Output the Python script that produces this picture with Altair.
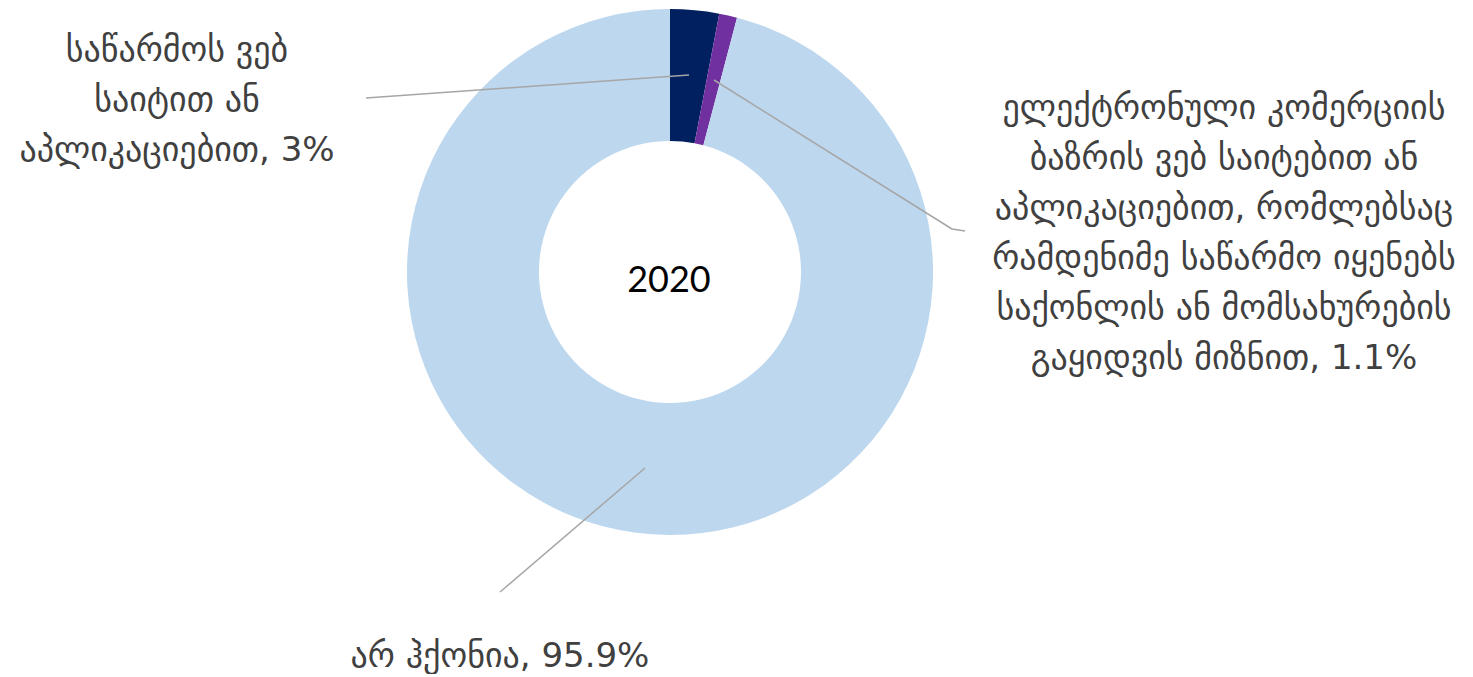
import altair as alt
import pandas as pd

categories = [
    "საწარმოს ვებ საიტით ან აპლიკაციებით",
    "ელექტრონული კომერციის ბაზრის ვებ საიტებით ან აპლიკაციებით, რომლებსაც რამდენიმე საწარმო იყენებს საქონლის ან მომსახურების გაყიდვის მიზნით",
    "არ ჰქონია",
]
values = [3.0, 1.1, 95.9]
value_text = ["3%", "1.1%", "95.9%"]
label_lines = [
    ["საწარმოს ვებ", "საიტით ან", "აპლიკაციებით, "],
    ["ელექტრონული კომერციის", "ბაზრის ვებ საიტებით ან", "აპლიკაციებით, რომლებსაც",
     "რამდენიმე საწარმო იყენებს", "საქონლის ან მომსახურების", "გაყიდვის მიზნით, "],
    ["არ ჰქონია, "],
]
colors = ["#002060", "#7030A0", "#BDD7EE"]
center_title = "2020"

df = pd.DataFrame({
    "category": categories,
    "value": values,
    "order": [0, 1, 2],
    "label": ["\n".join(l) + v for l, v in zip(label_lines, value_text)],
})

W, H = 1457, 661
CX, CY = 662, 264
FONT = "DejaVu Sans"
FS = 34
TXT = "#404040"
LINE = "#A6A6A6"

base = alt.Chart(df)

arc = base.mark_arc(outerRadius=263, innerRadius=131, stroke=None).encode(
    theta=alt.Theta("value:Q", stack=True),
    order=alt.Order("order:Q"),
    color=alt.Color("category:N", scale=alt.Scale(domain=categories, range=colors), legend=None),
    x=alt.value(CX),
    y=alt.value(CY),
)

center = alt.Chart(pd.DataFrame({"t": [center_title]})).mark_text(
    font="Lato", fontSize=36, color="#000000", align="center", baseline="middle"
).encode(text="t:N", x=alt.value(CX - 1), y=alt.value(CY + 9))


def label_layer(i, x, y):
    return base.transform_filter(alt.datum.order == i).mark_text(
        font=FONT, fontSize=FS, color=TXT, align="center", baseline="middle",
        lineBreak="\n", lineHeight=50,
    ).encode(text="label:N", x=alt.value(x), y=alt.value(y))


labels = [
    label_layer(0, 169, 43),
    label_layer(1, 1216, 101),
    label_layer(2, 492, 649),
]

one = pd.DataFrame({"a": [0]})


def seg(x1, y1, x2, y2):
    return alt.Chart(one).mark_rule(color=LINE, strokeWidth=1.5).encode(
        x=alt.value(x1 - 8), y=alt.value(y1 - 8), x2=alt.value(x2 - 8), y2=alt.value(y2 - 8)
    )


leaders = [
    seg(366, 98, 689, 75),
    seg(714, 80, 952, 229),
    seg(952, 229, 965, 231),
    seg(645, 468, 500, 592),
]

chart = alt.layer(arc, *leaders, center, *labels).properties(
    width=W, height=H, padding=0
).configure_view(stroke=None)

chart.save("out.html", embed_options={"renderer": "svg", "actions": False})
